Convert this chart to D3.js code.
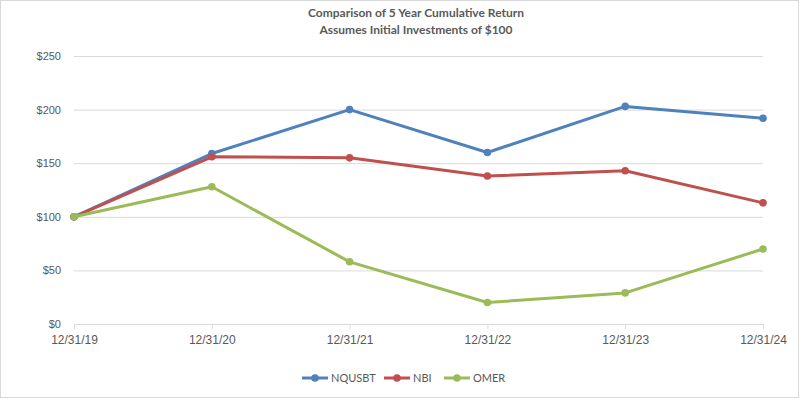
<!DOCTYPE html>
<html>
<head>
<meta charset="utf-8">
<script src="https://cdn.jsdelivr.net/npm/d3@7"></script>
<style>
	body { margin: 0; background: #fff; }
	svg { display: block; font-family: Lato, 'Open Sans', sans-serif; }
	.g-axis text { fill: #595959; font-size: 11px; }
	.g-axis.x text { font-size: 12px; }
</style>
</head>
<body>
<div id="chart"></div>
<script>
// data
const dates = ['12/31/19', '12/31/20', '12/31/21', '12/31/22', '12/31/23', '12/31/24'];
const nqusbt = [100, 159, 200, 160, 203, 192];
const nbi = [100, 156, 155, 138, 143, 113];
const omer = [100, 128, 58, 20, 29, 70];
const yTicks = [0, 50, 100, 150, 200, 250];

const series = [
	{ key: 'NQUSBT', values: nqusbt, color: '#4F81BD' },
	{ key: 'NBI', values: nbi, color: '#C0504D' },
	{ key: 'OMER', values: omer, color: '#9BBB59' }
];

// dimension stuff
const width = 800;
const height = 398;
const marginTop = 56;
const marginBottom = 74;
const marginLeft = 74;
const marginRight = 37;

const $svg = d3.select('#chart').append('svg')
	.attr('width', width)
	.attr('height', height);

// outer border
$svg.append('rect')
	.attr('x', 0.5).attr('y', 0.5)
	.attr('width', width - 2).attr('height', height - 1)
	.attr('fill', '#fff')
	.attr('stroke', '#D9D9D9');

// scales
const scaleX = d3.scalePoint()
	.domain(dates)
	.range([marginLeft, width - marginRight]);

const scaleY = d3.scaleLinear()
	.domain([0, 250])
	.range([height - marginBottom, marginTop]);

// title
const $title = $svg.append('text')
	.attr('text-anchor', 'middle')
	.attr('fill', '#595959')
	.style('font-size', '12px')
	.style('font-weight', 'bold');
$title.append('tspan').attr('x', 416).attr('y', 17).text('Comparison of 5 Year Cumulative Return');
$title.append('tspan').attr('x', 416).attr('y', 34).text('Assumes Initial Investments of $100');

// gridlines + y labels
const $yAxis = $svg.append('g').attr('class', 'g-axis y')
	.attr('transform', `translate(${marginLeft}, 0)`)
	.call(d3.axisLeft(scaleY)
		.tickValues(yTicks)
		.tickFormat(d => `$${d}`)
		.tickSize(-(width - marginLeft - marginRight))
		.tickPadding(13));
$yAxis.select('.domain').remove();
$yAxis.selectAll('.tick line').attr('stroke', '#D9D9D9');

// x axis
const $xAxis = $svg.append('g').attr('class', 'g-axis x')
	.attr('transform', `translate(0, ${height - marginBottom})`)
	.call(d3.axisBottom(scaleX).tickSize(5).tickSizeOuter(0).tickPadding(6));
$xAxis.select('.domain').attr('stroke', '#D9D9D9');
$xAxis.selectAll('.tick line').attr('stroke', '#D9D9D9');

// lines
const line = d3.line()
	.x((d, i) => scaleX(dates[i]))
	.y(d => scaleY(d));

const $vis = $svg.append('g').attr('class', 'g-vis');

series.forEach(s => {
	const $s = $vis.append('g');
	$s.append('path')
		.attr('d', line(s.values))
		.attr('fill', 'none')
		.attr('stroke', s.color)
		.attr('stroke-width', 3)
		.attr('stroke-linejoin', 'round');
	$s.selectAll('circle')
		.data(s.values)
		.enter()
		.append('circle')
		.attr('cx', (d, i) => scaleX(dates[i]))
		.attr('cy', d => scaleY(d))
		.attr('r', 3.8)
		.attr('fill', s.color);
});

// legend
const legendX = [302, 384, 444];
const legendY = 378;
const $legend = $svg.append('g').attr('class', 'g-legend');
series.forEach((s, i) => {
	const $item = $legend.append('g').attr('transform', `translate(${legendX[i]}, ${legendY})`);
	$item.append('line')
		.attr('x1', 0).attr('x2', 26)
		.attr('stroke', s.color)
		.attr('stroke-width', 3);
	$item.append('circle')
		.attr('cx', 13)
		.attr('r', 3.8)
		.attr('fill', s.color);
	$item.append('text')
		.attr('x', 29)
		.attr('dy', '0.35em')
		.attr('fill', '#595959')
		.style('font-size', '11px')
		.text(s.key);
});
</script>
</body>
</html>
